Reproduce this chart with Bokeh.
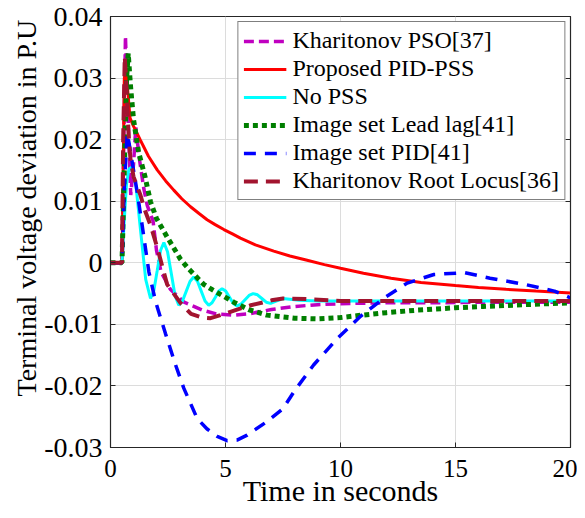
from bokeh.plotting import figure
from bokeh.models import (FixedTicker, LinearAxis, CustomJSTickFormatter, Range1d,
                          Legend, LegendItem, Title)
from bokeh.embed import file_html
from bokeh.resources import INLINE

# ---------------- data ----------------
x_ticks = [0, 5, 10, 15, 20]
y_ticks = [-0.03, -0.02, -0.01, 0, 0.01, 0.02, 0.03, 0.04]

labels = ["Kharitonov PSO[37]", "Proposed PID-PSS", "No PSS",
          "Image set Lead lag[41]", "Image set PID[41]", "Kharitonov Root Locus[36]"]

pso_t = [0, 0.5, 0.58, 0.65, 0.75, 0.88, 1.0, 1.1, 1.25, 1.45, 1.6, 1.85, 2.0, 2.2,
         2.6, 3.2, 4.0, 4.6, 5.4, 6.0, 7.0, 8.0, 9.0, 10.4, 12, 14, 16, 18, 20]
pso_y = [0, 0, 0.020, 0.0368, 0.025, 0.011, 0.016, 0.022, 0.017, 0.012, 0.0093, 0.0068,
         0.002, -0.0015, -0.0043, -0.0064, -0.0077, -0.0083, -0.0085, -0.0083, -0.0076,
         -0.0071, -0.0068, -0.0066, -0.0065, -0.0065, -0.0064, -0.0064, -0.0064]

pid_pss_t = [0, 0.5, 0.6, 0.68, 0.85, 1.0, 1.3, 1.65, 2.03, 2.4, 2.75, 3.1, 3.48, 3.85,
             4.2, 4.55, 4.93, 5.3, 5.65, 6.3, 7.1, 7.8, 8.55, 9.3, 10, 11, 12.2, 13.5,
             15, 16, 17.2, 18.5, 20]
pid_pss_y = [0, 0, 0.030, 0.031, 0.0235, 0.0222, 0.0199, 0.0173, 0.0151, 0.0133, 0.0118,
             0.0104, 0.0091, 0.0080, 0.0070, 0.0062, 0.0054, 0.0047, 0.0040, 0.0029,
             0.0019, 0.0011, 0.0004, -0.0003, -0.0009, -0.0017, -0.0025, -0.0032, -0.0037,
             -0.0040, -0.0043, -0.0046, -0.0049]

nopss_t = [0, 0.5, 0.6, 0.7, 0.8, 0.9, 1.11, 1.32, 1.53, 1.74, 1.885, 2.03, 2.175, 2.32,
           2.48, 2.645, 2.81, 2.97, 3.13, 3.295, 3.46, 3.62, 3.78, 3.945, 4.11, 4.27,
           4.415, 4.56, 4.705, 4.85, 5.01, 5.175, 5.34, 5.5, 5.675, 5.85, 6.025, 6.2,
           6.39, 6.58, 6.77, 6.96, 7.23, 7.5, 8.2, 9, 10, 12, 14, 16, 18, 20]
nopss_y = [0, 0, 0.007, 0.013, 0.0152, 0.0155, 0.0124, 0.0048, -0.0027, -0.0058,
           -0.0045, -0.0013, 0.0020, 0.0033, 0.0018, -0.0018, -0.0054, -0.0069, -0.0062,
           -0.0046, -0.0030, -0.0023, -0.0030, -0.0046, -0.0062, -0.0069, -0.0065,
           -0.0056, -0.0046, -0.0042, -0.0046, -0.0056, -0.0066, -0.0070, -0.0067,
           -0.0060, -0.0053, -0.0050, -0.0052, -0.0058, -0.0064, -0.0066, -0.0062,
           -0.0058, -0.0061, -0.0062, -0.0062, -0.0062, -0.0062, -0.0062, -0.0062, -0.0062]

leadlag_t = [0, 0.5, 0.6, 0.7, 0.77, 0.87, 1.0, 1.22, 1.5, 1.74, 2.0, 2.46, 3.04, 3.4,
             4.05, 4.35, 5.36, 6.0, 6.8, 8.0, 9.0, 10.0, 10.7, 12, 13.3, 15, 16.2, 18, 20]
leadlag_y = [0, 0, 0.015, 0.030, 0.034, 0.0287, 0.0233, 0.018, 0.014, 0.0099, 0.0072,
             0.0042, 0.0006, -0.001, -0.0035, -0.0042, -0.0064, -0.0076, -0.0085, -0.009,
             -0.0091, -0.0089, -0.0086, -0.0081, -0.0077, -0.0073, -0.0071, -0.0068, -0.0065]

imgpid_t = [0, 0.5, 0.6, 0.72, 0.8, 0.94, 1.16, 1.38, 1.67, 1.96, 2.39, 2.83, 3.19, 3.77,
            4.2, 4.64, 5.07, 5.5, 5.94, 6.8, 7.5, 8.0, 8.83, 9.86, 10.87, 11.9, 12.9,
            14.06, 15.4, 16.5, 18, 19.3, 20]
imgpid_y = [0, 0, 0.012, 0.021, 0.0196, 0.0164, 0.0115, 0.006, -0.0015, -0.0063, -0.0115,
            -0.0166, -0.0204, -0.0253, -0.027, -0.0282, -0.0289, -0.0288, -0.028, -0.0258,
            -0.0237, -0.0208, -0.0166, -0.0123, -0.0087, -0.0057, -0.0033, -0.0019,
            -0.0016, -0.0025, -0.0035, -0.0046, -0.0057]

rootlocus_t = [0, 0.5, 0.55, 0.62, 0.7, 0.8, 0.87, 1.0, 1.3, 1.5, 1.75, 2.03, 2.46, 3.04,
               3.5, 4.0, 4.35, 4.78, 5.5, 6.1, 7.0, 7.5, 8.5, 10, 12, 14, 16, 18, 20]
rootlocus_y = [0, 0, 0.020, 0.0335, 0.028, 0.020, 0.0168, 0.014, 0.011, 0.0085, 0.006,
               0.0025, -0.0035, -0.0065, -0.0083, -0.0089, -0.009, -0.0085, -0.0076,
               -0.0069, -0.0061, -0.0058, -0.0059, -0.0062, -0.0062, -0.0062, -0.0062,
               -0.0062, -0.0062]

# ---------------- figure ----------------
FONT = "Liberation Serif"

p = figure(frame_width=460, frame_height=431, output_backend="svg",
           toolbar_location=None,
           x_range=Range1d(0, 20), y_range=Range1d(-0.03, 0.04),
           min_border_left=110, min_border_right=7, min_border_top=16,
           min_border_bottom=10)
p.background_fill_color = "white"
p.border_fill_color = "white"
p.outline_line_color = "#262626"
p.outline_line_width = 1.2

series = [
    (pso_t, pso_y, "#C000C0", "10 5", 3.5),
    (pid_pss_t, pid_pss_y, "#FF0000", "solid", 3),
    (nopss_t, nopss_y, "#00FFFF", "solid", 3),
    (leadlag_t, leadlag_y, "#007F00", "5 4", 5),
    (imgpid_t, imgpid_y, "#0000FF", "12 9", 3.5),
    (rootlocus_t, rootlocus_y, "#A2142F", "14 8", 4),
]
items = []
for (tt, yy, col, dash, w), lab in zip(series, labels):
    r = p.line(tt, yy, line_color=col, line_width=w, line_dash=dash)
    items.append(LegendItem(label=lab, renderers=[r]))

# axes
for ax in (p.xaxis[0], p.yaxis[0]):
    ax.major_tick_in = 5
    ax.major_tick_out = 0
    ax.minor_tick_line_color = None
    ax.axis_line_color = "#262626"
    ax.major_tick_line_color = "#262626"
    ax.major_label_text_font = FONT
    ax.major_label_text_color = "black"
    ax.axis_label_text_font = FONT
    ax.axis_label_text_font_size = "30px"
    ax.axis_label_text_font_style = "normal"
    ax.axis_label_text_color = "black"

p.yaxis[0].major_label_text_font_size = "28px"
p.xaxis[0].major_label_text_font_size = "25px"

p.xaxis[0].ticker = FixedTicker(ticks=x_ticks)
p.yaxis[0].ticker = FixedTicker(ticks=y_ticks)
p.yaxis[0].formatter = CustomJSTickFormatter(
    code="return Math.abs(tick) < 1e-9 ? '0' : tick.toFixed(2);")
p.xaxis[0].axis_label = "Time in seconds"
p.xaxis[0].major_label_standoff = 12
p.xaxis[0].axis_label_standoff = -6
p.yaxis[0].major_label_standoff = 8

ytitle = Title(text="Terminal voltage deviation in P.U", align="left", offset=51,
               text_font=FONT, text_font_size="28px", text_font_style="normal",
               text_color="black", standoff=0)
p.add_layout(ytitle, "left")

# mirrored ticks on the right (box on)
blank = CustomJSTickFormatter(code="return '';")
right = LinearAxis(ticker=FixedTicker(ticks=y_ticks), formatter=blank,
                   major_tick_in=5, major_tick_out=0, minor_tick_line_color=None,
                   axis_line_color="#262626", major_tick_line_color="#262626",
                   major_label_standoff=0, major_label_text_font_size="0px")
p.add_layout(right, "right")

# grid
p.xgrid.ticker = FixedTicker(ticks=x_ticks)
p.ygrid.ticker = FixedTicker(ticks=y_ticks)
p.grid.grid_line_color = "#DCDCDC"
p.grid.grid_line_width = 1

legend = Legend(items=items, location="top_right")
legend.margin = 5
legend.padding = 5
legend.spacing = 1
legend.label_text_font = FONT
legend.label_text_font_size = "24px"
legend.label_text_color = "black"
legend.label_height = 24
legend.glyph_height = 24
legend.glyph_width = 43
legend.label_standoff = 6
legend.border_line_color = "black"
legend.border_line_width = 1.2
legend.background_fill_color = "white"
legend.background_fill_alpha = 1
p.add_layout(legend, "center")

open("out.html", "w").write(file_html(p, INLINE))
